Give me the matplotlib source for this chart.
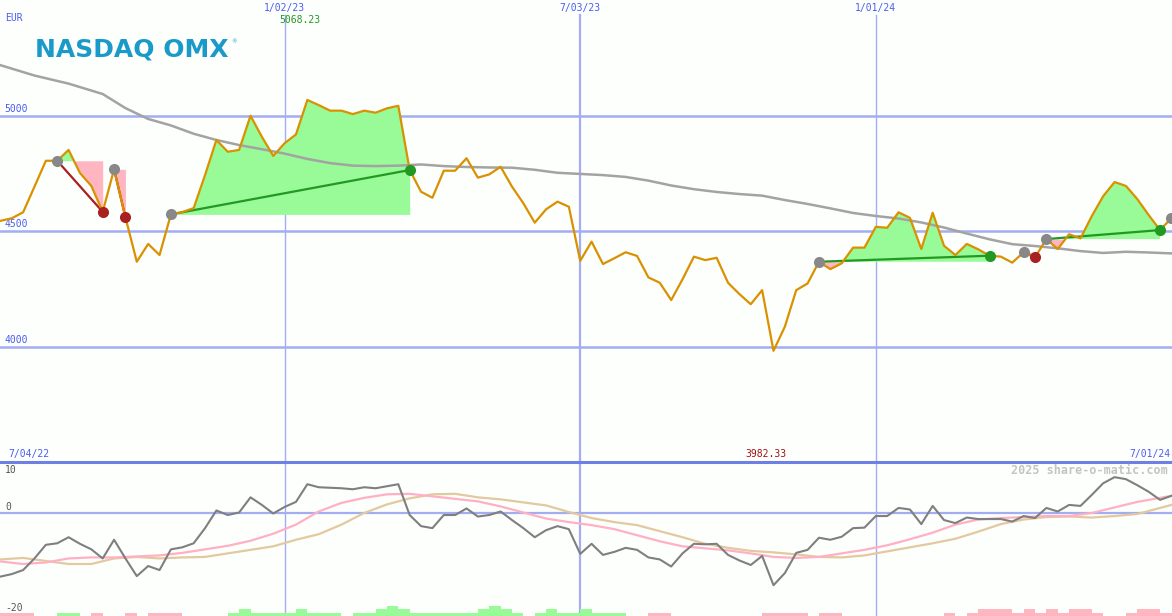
import numpy as np
import pandas as pd
import matplotlib
matplotlib.use("Agg")
import matplotlib.pyplot as plt
from matplotlib import transforms
from matplotlib.lines import Line2D

# weekly closes 7/04/22 .. 7/01/24
weeks = pd.date_range("2022-07-04", "2024-07-01", freq="7D")
close = [4546, 4545, 4556, 4582, 4693, 4805, 4805, 4852, 4752, 4696,
         4584, 4768, 4560, 4368, 4445, 4397, 4573, 4583, 4600, 4743,
         4895, 4844, 4852, 5000, 4909, 4826, 4881, 4919, 5068.23, 5046,
         5022, 5022, 5007, 5022, 5013, 5032, 5043, 4765, 4671, 4645,
         4762, 4762, 4816, 4732, 4746, 4779, 4693, 4621, 4537, 4595,
         4628, 4606, 4372, 4455, 4358, 4383, 4409, 4393, 4300, 4277,
         4202, 4292, 4390, 4375, 4385, 4277, 4228, 4184, 4245, 3982.33,
         4087, 4245, 4274, 4368, 4336, 4361, 4429, 4429, 4519, 4515,
         4582, 4558, 4423, 4580, 4437, 4397, 4445, 4422, 4394, 4390,
         4364, 4409, 4387, 4466, 4423, 4487, 4469, 4566, 4652, 4713,
         4696, 4639, 4570, 4505, 4557]

# long moving average
ma_idx = [1, 4, 7] + list(range(10, 105, 2))
ma_long = [5219, 5174, 5139, 5094, 5033, 4986, 4958, 4922, 4895, 4873,
           4855, 4836, 4813, 4795, 4784, 4782, 4784, 4789, 4782, 4778,
           4776, 4775, 4766, 4753, 4748, 4743, 4735, 4719, 4698, 4682,
           4670, 4661, 4654, 4635, 4618, 4599, 4579, 4566, 4555, 4538,
           4516, 4490, 4465, 4444, 4436, 4426, 4414, 4406, 4411, 4408,
           4404]

# lower panel indicator
mom = [-12.8, -12.6, -12.1, -11.3, -9.0, -6.3, -6.0, -4.8, -6.1, -7.2,
       -9.0, -5.3, -9.0, -12.5, -10.5, -11.3, -7.2, -6.8, -6.0, -3.0,
       0.5, -0.4, 0.1, 3.1, 1.6, -0.1, 1.2, 2.2, 5.7, 5.1,
       5.0, 4.9, 4.7, 5.1, 4.9, 5.3, 5.7, -0.4, -2.6, -3.0,
       -0.4, -0.4, 0.9, -0.7, -0.4, 0.3, -1.4, -3.0, -4.8, -3.4,
       -2.6, -3.2, -8.1, -6.1, -8.3, -7.7, -6.9, -7.3, -8.8, -9.2,
       -10.6, -8.0, -6.1, -6.2, -6.1, -8.3, -9.4, -10.3, -8.5, -14.3,
       -11.9, -7.9, -7.3, -4.9, -5.3, -4.7, -3.0, -2.9, -0.6, -0.6,
       1.0, 0.7, -2.2, 1.4, -1.4, -2.0, -0.9, -1.2, -1.2, -1.2,
       -1.7, -0.6, -1.0, 1.0, 0.3, 1.6, 1.4, 3.6, 5.9, 7.1,
       6.7, 5.5, 4.2, 2.6, 3.4]
sig_idx = list(range(1, 104, 2)) + [104]
mom_fast = [-9.6, -10.1, -9.8, -9.0, -8.8, -8.8, -8.6, -8.4, -7.9, -7.2,
            -6.5, -5.5, -4.1, -2.3, 0.3, 2.0, 3.0, 3.7, 3.8, 3.3,
            2.8, 2.3, 1.3, 0.1, -1.1, -1.8, -2.4, -3.2, -4.4, -5.6,
            -6.6, -7.0, -7.4, -8.0, -8.7, -8.9, -8.7, -8.0, -7.3, -6.4,
            -5.2, -3.9, -2.3, -1.3, -1.0, -0.8, -0.6, -0.6, 0.0, 1.1,
            2.2, 3.0, 3.4]
mom_slow = [-9.2, -8.9, -9.5, -10.1, -10.1, -9.0, -8.7, -9.0, -8.8, -8.7,
            -8.0, -7.3, -6.6, -5.3, -4.2, -2.3, 0.0, 1.7, 2.9, 3.7,
            3.8, 3.1, 2.7, 2.1, 1.5, 0.2, -1.0, -1.8, -2.4, -3.6,
            -4.8, -6.1, -6.9, -7.5, -7.8, -8.2, -8.7, -8.8, -8.4, -7.6,
            -6.8, -6.0, -5.1, -3.7, -2.2, -1.3, -0.8, -0.7, -0.9, -0.6,
            -0.2, 1.0, 1.6]
hist = [-1, -1, -1, -1, 0, 0, 1, 1, 0, -1,
        0, 0, -1, 0, -1, -1, -1, 0, 0, 0,
        0, 1, 2, 1, 1, 1, 1, 2, 1, 1,
        1, 0, 1, 1, 2, 3, 2, 1, 1, 1,
        1, 1, 1, 2, 3, 2, 1, 0, 1, 2,
        1, 1, 2, 1, 1, 1, 0, 0, -1, -1,
        0, 0, 0, 0, 0, 0, 0, 0, -1, -1,
        -1, -1, 0, -1, -1, 0, 0, 0, 0, 0,
        0, 0, 0, 0, -1, 0, -1, -2, -2, -2,
        -1, -2, -1, -2, -1, -2, -2, -1, 0, 0,
        -1, -2, -2, -1, -1]

# trades (week index of entry / exit)
entries = [6, 11, 16, 73, 91, 93]
exits = [10, 12, 37, 88, 92, 103]
open_entry = 104

grid_c = '#a3adf2'
blue_txt = '#4a5cf0'
green = '#229922'
red = '#a82020'
bg = '#fdfffd'

idx = np.arange(len(close))
close = np.array(close, dtype=float)

fig = plt.figure(figsize=(11.72, 6.16), dpi=100, facecolor=bg)
ax = fig.add_axes([0, 0.25, 1, 0.75])
ax2 = fig.add_axes([0, 0, 1, 0.25])
for a in (ax, ax2):
    a.set_facecolor(bg)
    a.set_xlim(0.967, 104.05)
    a.set_xticks([])
    a.set_yticks([])
    for s in a.spines.values():
        s.set_visible(False)
ax.set_ylim(3501, 5501)
ax2.set_ylim(-20.4, 10.1)

# grid
for lv in [4000, 4500, 5000]:
    ax.axhline(lv, color=grid_c, lw=1.8, zorder=0.5)
    ax.text(0.004, lv + 8, str(lv), transform=transforms.blended_transform_factory(ax.transAxes, ax.transData),
            color=blue_txt, fontsize=7, family='DejaVu Sans Mono', va='bottom')
top_tr = transforms.blended_transform_factory(ax.transData, ax.transAxes)
for w in [26, 52, 78]:
    lw = 1.6 if w == 52 else 1.0
    ax.axvline(w, ymax=0.968, color=grid_c, lw=lw, zorder=0.5)
    ax2.axvline(w, color=grid_c, lw=lw, zorder=0.5)
    d = weeks[w]
    ax.text(w, 0.983, f"{d.month}/{d.day:02d}/{d:%y}", transform=top_tr, ha='center', va='center',
            color=blue_txt, fontsize=7, family='DejaVu Sans Mono')

# trades: fills, lines, dots
for e, x in zip(entries, exits):
    xs = idx[e:x + 1]
    ys = close[e:x + 1]
    lvl = close[e]
    ax.fill_between(xs, ys, lvl, where=ys >= lvl, interpolate=True, color='#98fb98', lw=0, zorder=1)
    ax.fill_between(xs, ys, lvl, where=ys < lvl, interpolate=True, color='#ffb6c1', lw=0, zorder=1)

ax.plot(ma_idx, ma_long, color='#a3a3a3', lw=1.8, zorder=2)

for e, x in zip(entries, exits):
    col = green if close[x] > close[e] else red
    ax.plot([e, x], [close[e], close[x]], color=col, lw=1.6, zorder=3)

ax.plot(idx, close, color='#d99100', lw=1.6, zorder=4)

for e, x in zip(entries, exits):
    col = green if close[x] > close[e] else red
    ax.plot(e, close[e], 'o', ms=8, color='#888888', mec='none', zorder=5)
    ax.plot(x, close[x], 'o', ms=8, color=col, mec='none', zorder=5)
ax.plot(open_entry, close[open_entry], 'o', ms=8, color='#888888', mec='none', zorder=5)

# max / min labels
imax = int(np.argmax(close))
imin = int(np.argmin(close))
ax.text(imax - 0.65, 0.957, f"{close[imax]:.2f}", transform=top_tr, ha='center', va='center',
        color=green, fontsize=7, family='DejaVu Sans Mono')
ax.text(imin - 0.65, 0.017, f"{close[imin]:.2f}", transform=top_tr, ha='center', va='center',
        color='#a01010', fontsize=7, family='DejaVu Sans Mono')
d0, d1 = weeks[0], weeks[-1]
fig.text(8 / 1172, 1 - 454 / 616, f"{d0.month}/{d0.day:02d}/{d0:%y}", color=blue_txt, fontsize=7,
         family='DejaVu Sans Mono', va='center', ha='left')
fig.text(1170 / 1172, 1 - 454 / 616, f"{d1.month}/{d1.day:02d}/{d1:%y}", color=blue_txt, fontsize=7,
         family='DejaVu Sans Mono', va='center', ha='right')
fig.text(5 / 1172, 1 - 18 / 616, "EUR", color=blue_txt, fontsize=7, family='DejaVu Sans Mono', va='center')

# logo
fig.text(35 / 1172, 1 - 56 / 616, "NASDAQ OMX", color='#1a9ac8', fontsize=18, fontweight='heavy',
         va='baseline', ha='left')
fig.text(231 / 1172, 1 - 42 / 616, "®", color='#1a9ac8', fontsize=4, va='center')

# lower panel
ax2.axhline(0, color=grid_c, lw=1.6, zorder=0.5)
ax2.plot(sig_idx, mom_slow, color='#e2c9a0', lw=1.6, zorder=2)
ax2.plot(sig_idx, mom_fast, color='#ffb0c4', lw=1.6, zorder=2)
ax2.plot(idx, mom, color='#7f7f7f', lw=1.5, zorder=3)

ax3 = ax2.twinx()
ax3.set_xlim(0.967, 104.05)
ax3.set_ylim(0, 46)
ax3.axis('off')
bar_cols = ['#98fb98' if h > 0 else '#ffb6c1' for h in hist]
ax3.bar(idx, np.abs(hist), width=1, align='edge', color=bar_cols, lw=0)

fig.add_artist(Line2D([0, 1], [1 - 462 / 616] * 2, transform=fig.transFigure, color='#6f80e4', lw=2.2))
for lab, yp in [("10", 470), ("0", 507), ("-20", 608)]:
    fig.text(5 / 1172, 1 - yp / 616, lab, color='#555555', fontsize=7, family='DejaVu Sans Mono', va='center')
fig.text(1168 / 1172, 1 - 471 / 616, "2025 share-o-matic.com", color='#c4c4c4', fontsize=8.5,
         family='DejaVu Sans Mono', fontweight='bold', ha='right', va='center')

fig.savefig("out.png", dpi=100, facecolor=bg)
